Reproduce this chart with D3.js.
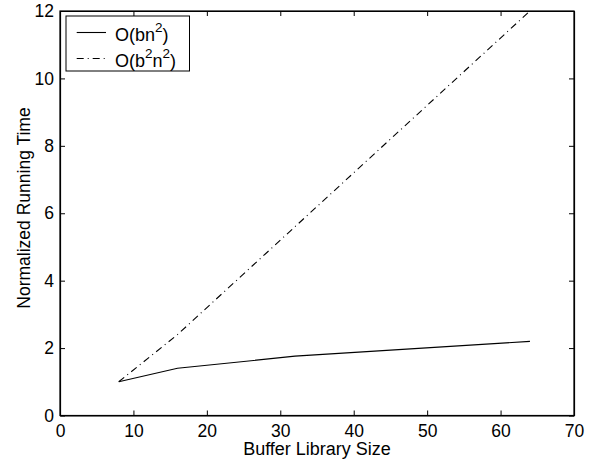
<!DOCTYPE html>
<html>
<head>
<meta charset="utf-8">
<script src="https://cdn.jsdelivr.net/npm/d3@7"></script>
<style>
  body { margin: 0; background: #fff; }
  svg { display: block; font-family: Arial, "Liberation Sans", Helvetica, sans-serif; }
</style>
</head>
<body>
<div id="chart"></div>
<script>
// buffer library sizes
const bufferSizes = [8, 16, 32, 64];
// O(bn^2)
const linearTime = [1.0, 1.4, 1.76, 2.2];
// O(b^2n^2)
const quadTime = [1.0, 2.4, 5.6, 12.0];
const xTicks = [0, 10, 20, 30, 40, 50, 60, 70];
const yTicks = [0, 2, 4, 6, 8, 10, 12];

const width = 603;
const height = 460;
const margin = { top: 11, right: 29, bottom: 44.5, left: 60 };
const w = width - margin.left - margin.right;
const h = height - margin.top - margin.bottom;
const dashDot = "7,4,1,4";

const svg = d3.select("#chart").append("svg")
  .attr("width", width)
  .attr("height", height);

const g = svg.append("g")
  .attr("transform", `translate(${margin.left},${margin.top})`);

const x = d3.scaleLinear().domain([0, 70]).range([0, w]);
const y = d3.scaleLinear().domain([0, 12]).range([h, 0]);

// box
g.append("rect")
  .attr("width", w).attr("height", h)
  .attr("fill", "none").attr("stroke", "#000").attr("stroke-width", 1.2);

// axes, ticks pointing inward
const axBottom = g.append("g").attr("transform", `translate(0,${h})`)
  .call(d3.axisBottom(x).tickValues(xTicks).tickSizeInner(-5).tickSizeOuter(0).tickPadding(9.5));
const axLeft = g.append("g")
  .call(d3.axisLeft(y).tickValues(yTicks).tickSizeInner(-5).tickSizeOuter(0).tickPadding(6));
const axTop = g.append("g")
  .call(d3.axisTop(x).tickValues(xTicks).tickSizeInner(-5).tickSizeOuter(0).tickFormat(""));
const axRight = g.append("g").attr("transform", `translate(${w},0)`)
  .call(d3.axisRight(y).tickValues(yTicks).tickSizeInner(-5).tickSizeOuter(0).tickFormat(""));

[axBottom, axLeft, axTop, axRight].forEach((a) => {
  a.select(".domain").attr("stroke", "#000").attr("stroke-width", 1.2);
  a.selectAll(".tick line").attr("stroke", "#000");
  a.selectAll("text").style("font-size", "17.5px").attr("fill", "#000")
    .style("font-family", "Arial, 'Liberation Sans', sans-serif");
});

const line = d3.line().x((d) => x(d[0])).y((d) => y(d[1]));

g.append("path")
  .datum(bufferSizes.map((b, i) => [b, linearTime[i]]))
  .attr("d", line)
  .attr("fill", "none").attr("stroke", "#000").attr("stroke-width", 1.1);

g.append("path")
  .datum(bufferSizes.map((b, i) => [b, quadTime[i]]))
  .attr("d", line)
  .attr("fill", "none").attr("stroke", "#000").attr("stroke-width", 1.1)
  .attr("stroke-dasharray", dashDot);

// axis labels
svg.append("text")
  .attr("x", margin.left + w / 2).attr("y", 454.5)
  .attr("text-anchor", "middle").style("font-size", "18px")
  .text("Buffer Library Size");

svg.append("text")
  .attr("transform", "translate(29.5,208) rotate(-90)")
  .attr("text-anchor", "middle").style("font-size", "17.5px")
  .text("Normalized Running Time");

// legend
const legend = svg.append("g").attr("transform", "translate(66,16)");
legend.append("rect")
  .attr("width", 123.5).attr("height", 55)
  .attr("fill", "#fff").attr("stroke", "#000").attr("stroke-width", 1);

const legendItems = [
  { parts: [["O(bn", false], ["2", true], [")", false]], dash: null },
  { parts: [["O(b", false], ["2", true], ["n", false], ["2", true], [")", false]], dash: dashDot }
];

legendItems.forEach((item, i) => {
  const ly = 16.5 + i * 26;
  legend.append("line")
    .attr("x1", 10.7).attr("x2", 40).attr("y1", ly).attr("y2", ly)
    .attr("stroke", "#000").attr("stroke-width", 1.1)
    .attr("stroke-dasharray", item.dash);
  const t = legend.append("text")
    .attr("x", 49).attr("y", ly + 8.7)
    .style("font-size", "18px");
  item.parts.forEach(([s, sup]) => {
    t.append("tspan")
      .attr("baseline-shift", sup ? "9px" : null)
      .style("font-size", sup ? "13.5px" : null)
      .text(s);
  });
});
</script>
</body>
</html>
